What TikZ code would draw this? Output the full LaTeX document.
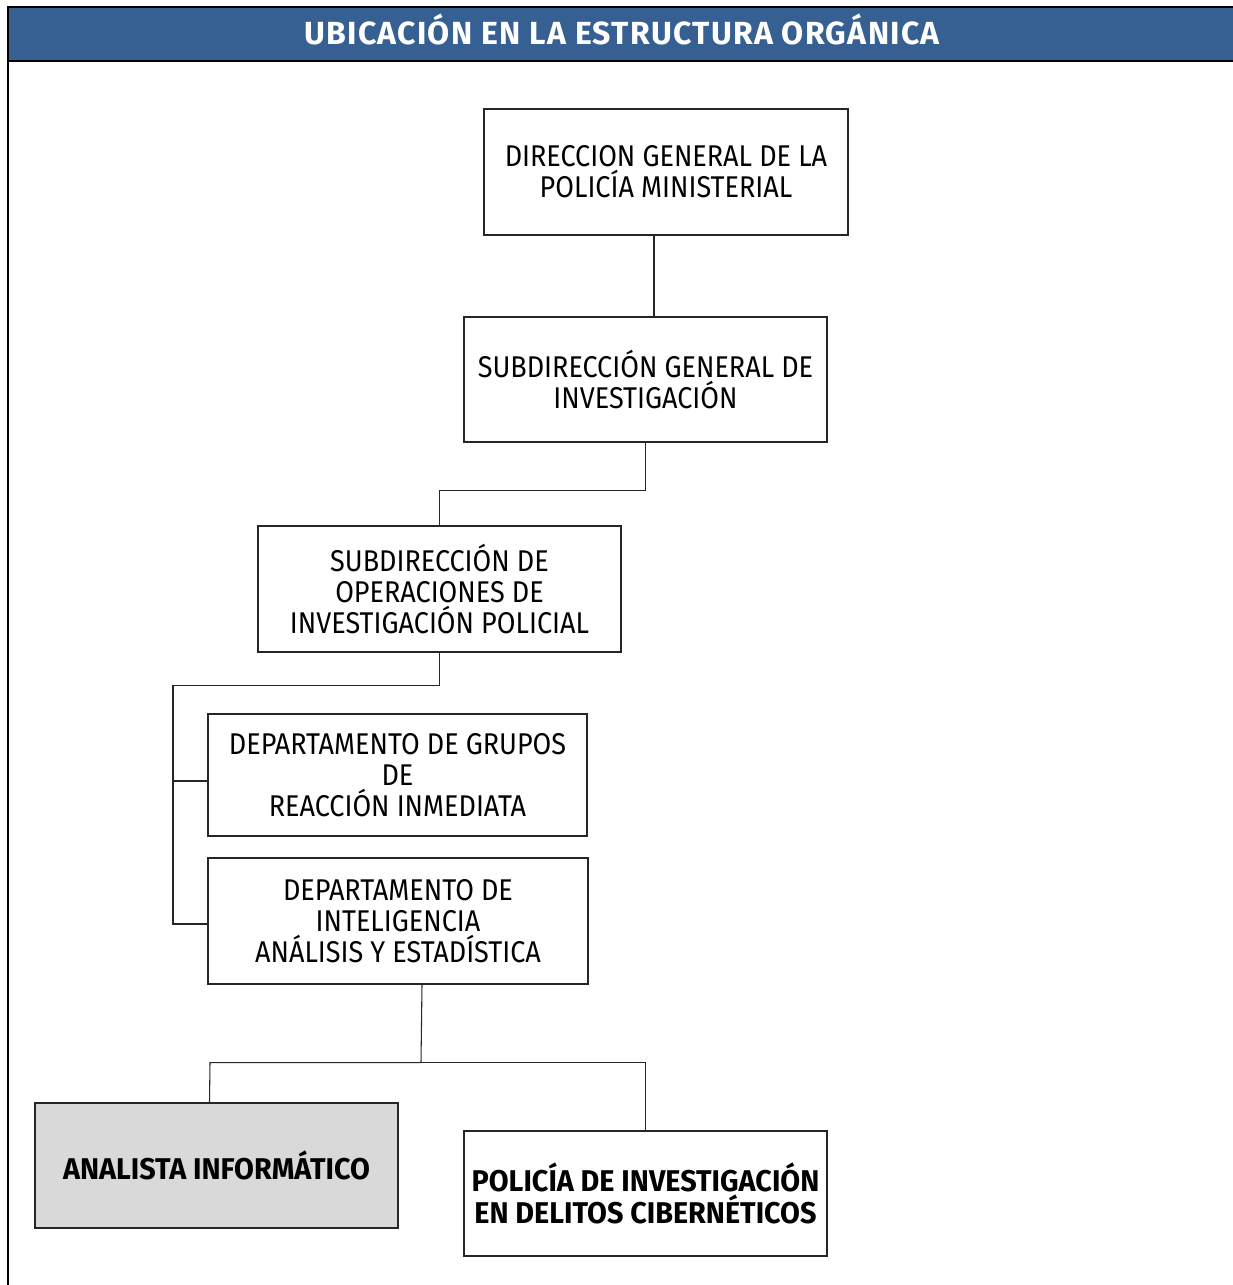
\documentclass[tikz,border=0pt]{standalone}
\usepackage{fontspec}
\setmainfont[FakeStretch=0.90]{Fira Sans}
\newfontfamily\strongfont[FakeStretch=0.96]{Fira Sans}
\newfontfamily\titlefont[LetterSpace=4]{Fira Sans}
\usetikzlibrary{calc}
\definecolor{headblue}{RGB}{54,96,146}
\definecolor{boxgray}{RGB}{217,217,217}
\begin{document}
\begin{tikzpicture}[x=0.75pt,y=-0.75pt,
  unit/.style={draw=black!85,line width=0.8pt,align=center,inner sep=0pt,
    font=\fontsize{22.5}{23.25}\selectfont},
  unitbold/.style={unit,font=\strongfont\fontsize{22.5}{24.5}\selectfont\bfseries},
  link/.style={draw=black!85,line width=0.8pt}]
\useasboundingbox (0,0) rectangle (1232,1285);
% header band and frame
\fill[headblue] (8,7) rectangle (1240,61);
\draw[line width=1.6pt] (1240,7) -- (8,7) -- (8,1290);
\draw[line width=1.6pt] (8,61) -- (1240,61);
\node[text=white,font=\titlefont\fontsize{24}{26}\selectfont\bfseries] (title) at (622,29) {UBICACIÓN EN LA ESTRUCTURA ORGÁNICA};
% organisational units
\node[unit,minimum width=364*0.75pt,minimum height=126*0.75pt] (dg) at (666,172) {DIRECCION GENERAL DE LA\\POLICÍA MINISTERIAL};
\node[unit,minimum width=363*0.75pt,minimum height=125*0.75pt] (sgi) at (645.5,379.5) {SUBDIRECCIÓN GENERAL DE\\INVESTIGACIÓN};
\node[unit,minimum width=363*0.75pt,minimum height=126*0.75pt] (soip) at (439.5,589) {SUBDIRECCIÓN DE\\OPERACIONES DE\\INVESTIGACIÓN POLICIAL};
\node[unit,minimum width=379*0.75pt,minimum height=122*0.75pt] (dgri) at (397.5,775) {DEPARTAMENTO DE GRUPOS\\DE\\REACCIÓN INMEDIATA};
\node[unit,minimum width=380*0.75pt,minimum height=126*0.75pt] (diae) at (398,921) {DEPARTAMENTO DE\\INTELIGENCIA\\ANÁLISIS Y ESTADÍSTICA};
\node[unitbold,fill=boxgray,minimum width=363*0.75pt,minimum height=125*0.75pt] (ai) at (216.5,1165.5) {ANALISTA INFORMÁTICO};
\node[unitbold,minimum width=363*0.75pt,minimum height=125*0.75pt] (pidc) at (645.5,1193.5) {POLICÍA DE INVESTIGACIÓN\\EN DELITOS CIBERNÉTICOS};
% connectors
\coordinate (d0) at ($(dg.south)+(-12,0)$);
\draw[link] (d0) -- (d0 |- sgi.north);
\draw[link] (sgi.south) -- ++(0,48) -| (soip.north);
\coordinate (w4) at ($(dgri.west)+(0,6)$);
\coordinate (w5) at ($(diae.west)+(0,3)$);
\draw[link] (soip.south) -- ++(0,33) coordinate (b1) -- (b1 -| 173,0) coordinate (b2) -- (b2 |- w5) -- (w5);
\draw[link] (b2 |- w4) -- (w4);
\draw[link] ($(diae.south)+(24,0)$) -- ++(-1,78) coordinate (b3);
\draw[link] (b3) -- (b3 -| 210,0) -- ($(ai.north)+(-7,0)$);
\draw[link] (b3) -- (b3 -| pidc.north) -- (pidc.north);
\end{tikzpicture}
\end{document}
